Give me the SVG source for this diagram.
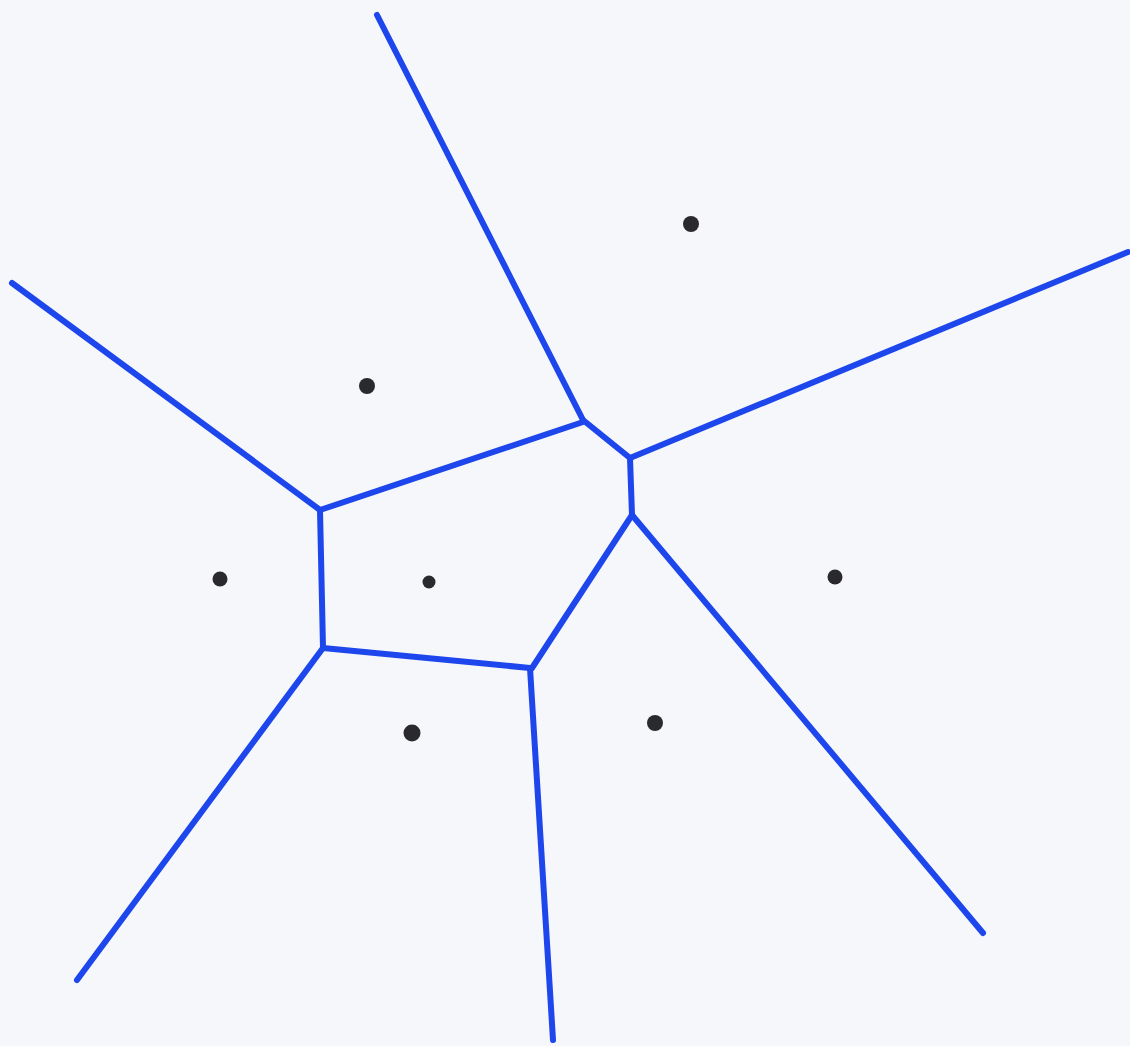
<svg xmlns="http://www.w3.org/2000/svg" width="1130" height="1046" viewBox="0 0 1130 1046">
<style>
.e{stroke:#1d47ec;stroke-width:6;stroke-linecap:round;fill:none}
.d{fill:#29292e}
</style>
<rect width="1130" height="1046" fill="#f6f7fb"/>
<g id="edges">
<line class="e" x1="377" y1="15" x2="583" y2="420"/>
<line class="e" x1="12" y1="283" x2="320" y2="510"/>
<line class="e" x1="320" y1="510" x2="583" y2="422"/>
<line class="e" x1="583" y1="420" x2="630" y2="458"/>
<line class="e" x1="630" y1="458" x2="1128" y2="252"/>
<line class="e" x1="630" y1="458" x2="632" y2="515"/>
<line class="e" x1="632" y1="515" x2="532" y2="668"/>
<line class="e" x1="632" y1="515" x2="983" y2="933"/>
<line class="e" x1="320" y1="510" x2="323" y2="648"/>
<line class="e" x1="323" y1="648" x2="530" y2="668"/>
<line class="e" x1="323" y1="648" x2="77" y2="980"/>
<line class="e" x1="530" y1="668" x2="553" y2="1040"/>
</g>
<g id="sites">
<circle class="d" cx="691" cy="224" r="8"/>
<circle class="d" cx="367" cy="386" r="8"/>
<circle class="d" cx="220" cy="579" r="7.5"/>
<circle class="d" cx="429" cy="582" r="6.5"/>
<circle class="d" cx="835" cy="577" r="7.5"/>
<circle class="d" cx="412" cy="733" r="8.5"/>
<circle class="d" cx="655" cy="723" r="8"/>
</g>
</svg>
